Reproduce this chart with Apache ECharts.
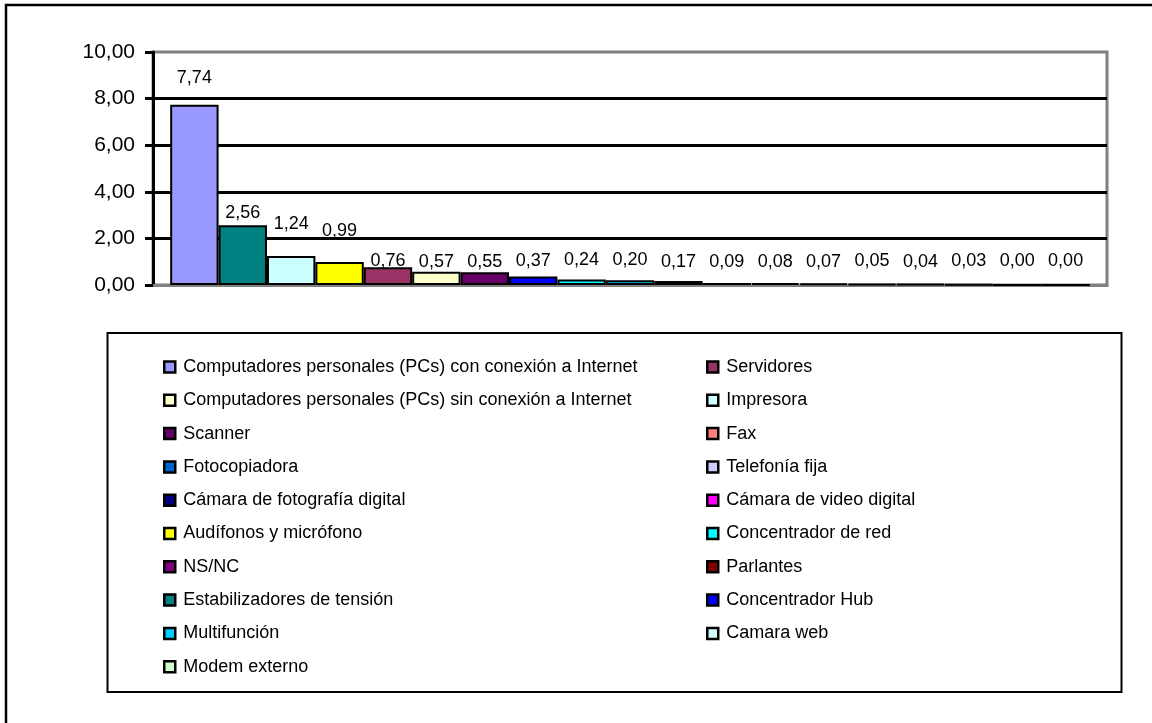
<!DOCTYPE html>
<html>
<head>
<meta charset="utf-8">
<title>Equipamiento</title>
<script src="https://cdn.jsdelivr.net/npm/echarts@6/dist/echarts.min.js"></script>
<style>
html, body { margin: 0; padding: 0; background: #fff; }
#chart { width: 1152px; height: 723px; }
</style>
</head>
<body>
<div id="chart"></div>
<script>
// series, in the order the bars are drawn
var names = [
    'Computadores personales (PCs) con conexión a Internet',
    'Estabilizadores de tensión',
    'Impresora',
    'Audífonos y micrófono',
    'Servidores',
    'Computadores personales (PCs) sin conexión a Internet',
    'Scanner',
    'Concentrador Hub',
    'Concentrador de red',
    'Multifunción',
    'Telefonía fija',
    'Cámara de fotografía digital',
    'Parlantes',
    'Camara web',
    'Modem externo',
    'Fotocopiadora',
    'NS/NC',
    'Fax',
    'Cámara de video digital'
];
var values = [7.74, 2.56, 1.24, 0.99, 0.76, 0.57, 0.55, 0.37, 0.24, 0.20,
              0.17, 0.09, 0.08, 0.07, 0.05, 0.04, 0.03, 0.00, 0.00];

// legend columns (as in the original box)
var legendLeft = [
    'Computadores personales (PCs) con conexión a Internet',
    'Computadores personales (PCs) sin conexión a Internet',
    'Scanner',
    'Fotocopiadora',
    'Cámara de fotografía digital',
    'Audífonos y micrófono',
    'NS/NC',
    'Estabilizadores de tensión',
    'Multifunción',
    'Modem externo'
];
var legendRight = [
    'Servidores',
    'Impresora',
    'Fax',
    'Telefonía fija',
    'Cámara de video digital',
    'Concentrador de red',
    'Parlantes',
    'Concentrador Hub',
    'Camara web'
];

// styles
var barColors = ['#9999FF', '#008080', '#CCFFFF', '#FFFF00', '#993366', '#FFFFCC', '#660066',
                 '#0000FF', '#00FFFF', '#00CCFF', '#CCCCFF', '#000080', '#800000', '#CCFFFF',
                 '#CCFFCC', '#0066CC', '#800080', '#FF8080', '#FF00FF'];
// gap between bar top and label middle (labels pushed up like the original)
var labelRise = [27, 12, 32, 31, 6, 10, 10, 15, 19, 20, 19, 21, 21, 21, 22, 22, 23, 23, 23];
var FONT = '"Liberation Sans", Arial, sans-serif';

function comma(v) {
    return Number(v).toFixed(2).replace('.', ',');
}

buildChart();

function buildChart() {
    var chart = echarts.init(document.getElementById('chart'));

    var series = names.map(function (n, i) {
        return {
            name: n,
            type: 'bar',
            data: [values[i]],
            barGap: '0%',
            barCategoryGap: '3.6%',
            itemStyle: {
                color: barColors[i],
                borderColor: '#000',
                borderWidth: 2
            },
            label: {
                show: true,
                position: 'top',
                distance: labelRise[i] - 9,
                formatter: function (p) { return comma(p.value); },
                fontFamily: FONT,
                fontSize: 18,
                color: '#000'
            },
            emphasis: { disabled: true }
        };
    });

    var legendBase = {
        orient: 'vertical',
        top: 357,
        padding: 0,
        itemGap: 13.3,
        itemWidth: 11,
        itemHeight: 11,
        icon: 'rect',
        selectedMode: false,
        itemStyle: { borderColor: '#000', borderWidth: 2.5 },
        textStyle: { fontFamily: FONT, fontSize: 18, color: '#000', lineHeight: 20, padding: [0, 0, 0, 3] }
    };

    var option = {
        animation: false,
        backgroundColor: '#fff',
        textStyle: { fontFamily: FONT },
        grid: {
            left: 153,
            top: 52,
            right: 45,
            bottom: 438,
            show: true,
            borderColor: '#808080',
            borderWidth: 3,
            backgroundColor: 'transparent'
        },
        legend: [
            Object.assign({}, legendBase, { left: 163, data: legendLeft }),
            Object.assign({}, legendBase, { left: 706, data: legendRight })
        ],
        graphic: [
            {
                type: 'rect', z: -10, silent: true,
                shape: { x: 6, y: 5, width: 1400, height: 1000 },
                style: { fill: 'none', stroke: '#000', lineWidth: 2.5 }
            },
            {
                type: 'rect', z: -10, silent: true,
                shape: { x: 107.5, y: 333, width: 1014, height: 359 },
                style: { fill: 'none', stroke: '#000', lineWidth: 2 }
            }
        ],
        xAxis: {
            type: 'category',
            data: [''],
            axisLine: { lineStyle: { color: '#808080', width: 3 } },
            axisTick: { show: false },
            axisLabel: { show: false },
            splitLine: { show: false }
        },
        yAxis: {
            type: 'value',
            min: 0,
            max: 10,
            interval: 2,
            axisLine: { show: true, lineStyle: { color: '#000', width: 3 } },
            axisTick: { show: true, length: 8, lineStyle: { color: '#000', width: 3 } },
            axisLabel: {
                margin: 18,
                fontFamily: FONT,
                fontSize: 21,
                color: '#000',
                formatter: function (v) { return comma(v); }
            },
            splitLine: {
                show: true,
                showMinLine: false,
                showMaxLine: false,
                lineStyle: { color: '#000', width: 3 }
            }
        },
        series: series
    };

    chart.setOption(option, true);
    window.addEventListener('resize', function () {
        chart.resize();
    });
}
</script>
</body>
</html>
